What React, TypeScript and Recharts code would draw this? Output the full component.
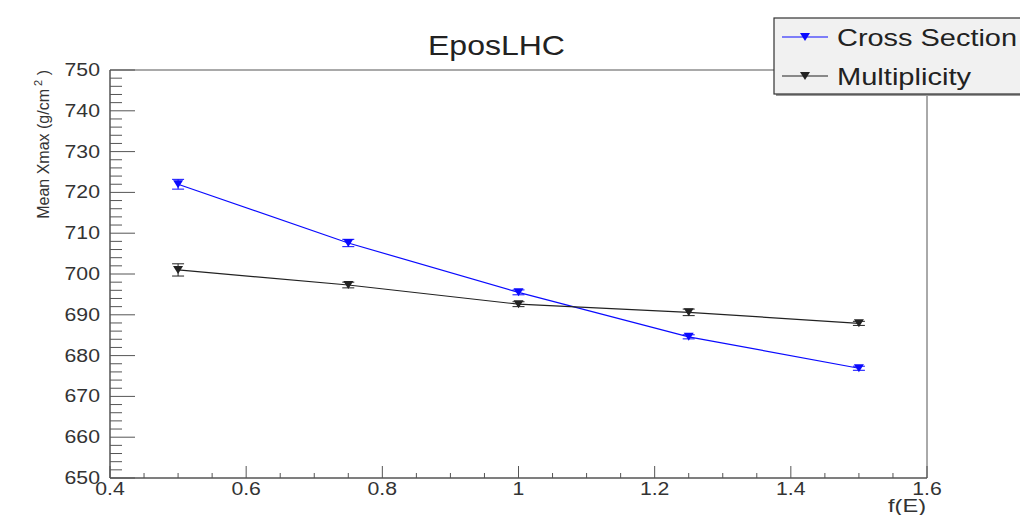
import { LineChart, Line, XAxis, YAxis, ErrorBar, ReferenceArea } from 'recharts';

const xValues = [0.5, 0.75, 1, 1.25, 1.5];
const crossSection = [722.0, 707.6, 695.5, 684.6, 676.9];
const crossSectionErr = [1.2, 0.9, 0.6, 0.5, 0.5];
const multiplicity = [701.0, 697.3, 692.6, 690.6, 687.9];
const multiplicityErr = [1.5, 0.7, 0.6, 0.8, 0.5];

const xMajorTicks = [0.4, 0.6, 0.8, 1, 1.2, 1.4, 1.6];
const yMajorTicks = [650, 660, 670, 680, 690, 700, 710, 720, 730, 740, 750];

const X_SUB = 4;
const Y_SUB = 5;

const FONT = '"Liberation Sans", Arial, Helvetica, sans-serif';
const BLUE = '#0a0aff';
const BLACK = '#222';
const AXIS = '#555';

function withMinor(major: number[], sub: number) {
  const out: number[] = [];
  for (let i = 0; i < major.length; i++) {
    out.push(major[i]);
    if (i < major.length - 1) {
      const step = (major[i + 1] - major[i]) / sub;
      for (let k = 1; k < sub; k++) out.push(Number((major[i] + step * k).toFixed(3)));
    }
  }
  return out;
}

const xTicks = withMinor(xMajorTicks, X_SUB);
const yTicks = withMinor(yMajorTicks, Y_SUB);

const data = xValues.map((x, i) => ({
  x,
  cross: crossSection[i],
  crossErr: crossSectionErr[i],
  multi: multiplicity[i],
  multiErr: multiplicityErr[i],
}));

// rough Arial widths, stretched like the source picture
function labelWidth(s: string, fs: number) {
  let w = 0;
  for (const ch of s) w += ch === '.' ? 0.278 : 0.556;
  return w * fs * 1.18;
}

const XTick = (props: any) => {
  const { x, y, payload } = props;
  const v = payload.value;
  const major = xMajorTicks.some((m) => Math.abs(m - v) < 1e-6);
  const label = String(v);
  return (
    <g>
      <line x1={x} y1={y} x2={x} y2={y - (major ? 12 : 5)} stroke={AXIS} strokeWidth={1} />
      {major && (
        <text x={x} y={y + 17} textAnchor="middle" fontSize={18} fontFamily={FONT} fill="#333"
          textLength={labelWidth(label, 18)} lengthAdjust="spacingAndGlyphs">
          {label}
        </text>
      )}
    </g>
  );
};

const YTick = (props: any) => {
  const { x, y, payload } = props;
  const v = payload.value;
  const major = yMajorTicks.includes(v);
  const label = String(v);
  return (
    <g>
      <line x1={x} y1={y} x2={x + (major ? 25 : 12)} y2={y} stroke={AXIS} strokeWidth={1} />
      {major && (
        <text x={x - 10} y={y + 6} textAnchor="end" fontSize={18} fontFamily={FONT} fill="#333"
          textLength={labelWidth(label, 18)} lengthAdjust="spacingAndGlyphs">
          {label}
        </text>
      )}
    </g>
  );
};

const triangle = (color: string) => (props: any) => {
  const { cx, cy, index } = props;
  if (cx == null || cy == null) return <g key={index} />;
  return (
    <polygon key={index} points={`${cx - 5},${cy - 4} ${cx + 5},${cy - 4} ${cx},${cy + 4}`} fill={color} />
  );
};

export default function App() {
  return (
    <div style={{ position: 'absolute', left: 0, top: 0, width: 1020, height: 515, overflow: 'hidden', background: '#fff' }}>
      <LineChart width={1020} height={515} data={data} margin={{ top: 70, right: 93, left: 20, bottom: 5 }}>
        <XAxis
          dataKey="x"
          type="number"
          domain={[0.4, 1.6]}
          ticks={xTicks}
          interval={0}
          height={32}
          tickSize={0}
          tickMargin={0}
          tickLine={false}
          axisLine={{ stroke: AXIS }}
          tick={<XTick />}
        />
        <YAxis
          type="number"
          domain={[650, 750]}
          ticks={yTicks}
          interval={0}
          width={90}
          tickSize={0}
          tickMargin={0}
          tickLine={false}
          axisLine={{ stroke: AXIS }}
          tick={<YTick />}
        />
        <ReferenceArea x1={0.4} x2={1.6} y1={650} y2={750} fill="none" stroke={AXIS} strokeWidth={1} />
        <Line
          dataKey="cross"
          stroke={BLUE}
          strokeWidth={1.2}
          dot={triangle(BLUE)}
          isAnimationActive={false}
        >
          <ErrorBar dataKey="crossErr" direction="y" width={6} stroke={BLUE} strokeWidth={1} />
        </Line>
        <Line
          dataKey="multi"
          stroke={BLACK}
          strokeWidth={1.2}
          dot={triangle(BLACK)}
          isAnimationActive={false}
        >
          <ErrorBar dataKey="multiErr" direction="y" width={6} stroke={BLACK} strokeWidth={1} />
        </Line>
      </LineChart>

      <svg width={1020} height={515} style={{ position: 'absolute', left: 0, top: 0, pointerEvents: 'none' }}>
        <text x={428} y={55} fontSize={28} fontFamily={FONT} fill="#222" textLength={137} lengthAdjust="spacingAndGlyphs">
          EposLHC
        </text>

        <text transform="rotate(-90, 49, 70)" x={49} y={70} textAnchor="end" fontSize={16} fontFamily={FONT} fill="#333">
          Mean Xmax (g/cm
          <tspan dy={-7} fontSize={11}> 2</tspan>
          <tspan dy={7}> )</tspan>
        </text>

        <text x={926} y={512} textAnchor="end" fontSize={18} fontFamily={FONT} fill="#333" textLength={38} lengthAdjust="spacingAndGlyphs">
          f(E)
        </text>

        <rect x={776} y={20} width={260} height={76} fill="#999" />
        <rect x={774} y={18} width={260} height={76} fill="#f1f1f1" stroke="#333" strokeWidth={1.2} />

        <line x1={782} y1={37} x2={828} y2={37} stroke={BLUE} strokeWidth={1.2} />
        <polygon points="800,33 810,33 805,41" fill={BLUE} />
        <text x={837} y={46} fontSize={24} fontFamily={FONT} fill="#222" textLength={180} lengthAdjust="spacingAndGlyphs">
          Cross Section
        </text>

        <line x1={782} y1={76} x2={828} y2={76} stroke={BLACK} strokeWidth={1.2} />
        <polygon points="800,72 810,72 805,80" fill={BLACK} />
        <text x={837} y={85} fontSize={24} fontFamily={FONT} fill="#222" textLength={134} lengthAdjust="spacingAndGlyphs">
          Multiplicity
        </text>
      </svg>
    </div>
  );
}
